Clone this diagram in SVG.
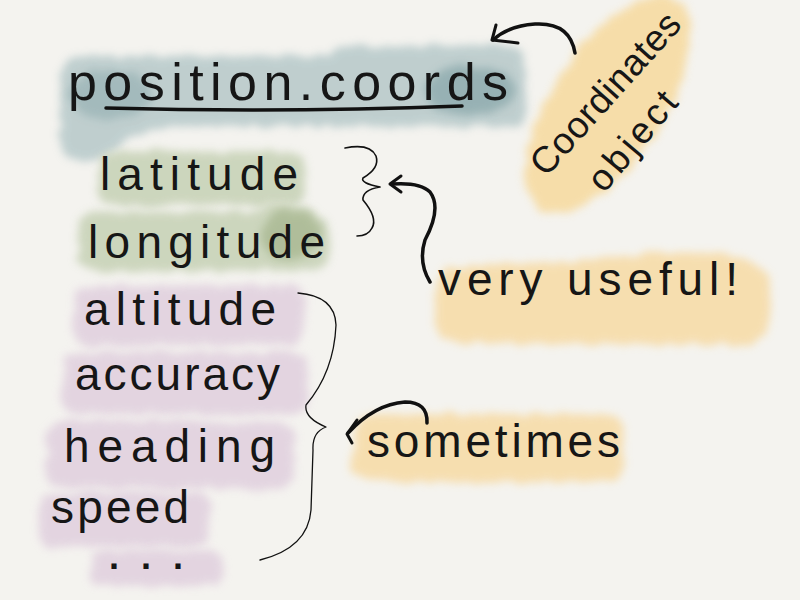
<svg xmlns="http://www.w3.org/2000/svg" width="800" height="600" viewBox="0 0 800 600">
<style>
.ink{font-family:"Liberation Sans","DejaVu Sans",sans-serif;fill:#161616}
.blob{filter:url(#wc);opacity:0.8}
.line{fill:none;stroke:#111;stroke-linecap:round;stroke-linejoin:round}
</style>
<defs>
<filter id="wc" x="-20%" y="-30%" width="140%" height="160%">
<feTurbulence type="fractalNoise" baseFrequency="0.07" numOctaves="2" seed="4" result="n"/>
<feDisplacementMap in="SourceGraphic" in2="n" scale="10" xChannelSelector="R" yChannelSelector="G" result="d"/>
<feGaussianBlur in="d" stdDeviation="4"/>
</filter>
</defs>
<rect width="800" height="600" fill="#f4f3ef"/>

<g id="node-coords">
<path class="blob" fill="#b2c6c7" d="M62,70 Q62,56 92,56 L330,56 Q338,46 360,46 L505,45 Q526,46 526,66 L526,110 Q526,128 505,127 L190,126 Q150,126 125,142 L98,160 Q62,166 60,140 Z"/>
<ellipse class="blob" cx="470" cy="90" rx="45" ry="25" fill="#8eabae" opacity="0.5"/>
<ellipse class="blob" cx="110" cy="95" rx="40" ry="25" fill="#9db6b8" opacity="0.4"/>
<text class="ink" x="68" y="100" style="font-size:52px" textLength="440" lengthAdjust="spacing">position.coords</text>
<path class="line" d="M106,108 Q280,113 462,106" stroke-width="3.5"/>
</g>

<g id="node-coordinates-object">
<ellipse class="blob" cx="608" cy="104" rx="125" ry="56" transform="rotate(-57 608 104)" fill="#f7d898"/>
<text class="ink" x="0" y="0" style="font-size:37px" textLength="205" lengthAdjust="spacing" transform="translate(546 178) rotate(-48)">Coordinates</text>
<text class="ink" x="0" y="0" style="font-size:37px" textLength="118" lengthAdjust="spacing" transform="translate(604 194) rotate(-50)">object</text>
</g>

<g id="node-latitude">
<path class="blob" fill="#c3cfb1" d="M100,165 Q100,150 125,150 L290,152 Q308,154 306,175 L304,195 Q300,206 280,205 L115,206 Q98,204 98,190 Z"/>
<text class="ink" x="100" y="190" style="font-size:46px" textLength="198" lengthAdjust="spacing">latitude</text>
</g>
<g id="node-longitude">
<path class="blob" fill="#c3cfb1" d="M80,225 Q80,212 100,212 L250,212 Q262,202 290,205 Q330,208 330,240 L328,260 Q324,272 300,270 L100,272 Q78,270 78,255 Z"/>
<ellipse class="blob" cx="290" cy="235" rx="30" ry="25" fill="#a9b892" opacity="0.5"/>
<text class="ink" x="88" y="258" style="font-size:46px" textLength="237" lengthAdjust="spacing">longitude</text>
</g>

<g id="node-altitude">
<path class="blob" fill="#dfcddd" d="M75,300 Q75,286 95,286 L290,285 Q306,286 305,305 L303,335 Q300,346 280,345 L90,346 Q72,344 72,330 Z"/>
<text class="ink" x="84" y="325" style="font-size:46px" textLength="192" lengthAdjust="spacing">altitude</text>
</g>
<g id="node-accuracy">
<path class="blob" fill="#dfcddd" d="M64,365 Q64,352 85,352 L290,352 Q308,354 308,372 L306,405 Q302,416 282,415 L80,414 Q62,412 62,398 Z"/>
<text class="ink" x="75" y="390" style="font-size:46px" textLength="205" lengthAdjust="spacing">accuracy</text>
</g>
<g id="node-heading">
<path class="blob" fill="#dfcddd" d="M48,435 Q48,420 70,420 L280,422 Q296,424 295,442 L293,478 Q290,490 270,489 L65,488 Q46,486 46,472 Z"/>
<text class="ink" x="64" y="462" style="font-size:46px" textLength="211" lengthAdjust="spacing">heading</text>
</g>
<g id="node-speed">
<path class="blob" fill="#dfcddd" d="M40,505 Q40,492 60,492 L195,492 Q210,494 209,510 L207,538 Q204,548 190,547 L55,547 Q38,545 38,532 Z"/>
<text class="ink" x="51" y="523" style="font-size:46px" textLength="138" lengthAdjust="spacing">speed</text>
</g>
<g id="node-more">
<path class="blob" fill="#dfcddd" d="M92,560 Q92,550 110,550 L212,550 Q226,552 225,565 L223,578 Q220,587 205,586 L105,586 Q90,584 90,574 Z"/>
<text class="ink" x="109" y="569" style="font-size:36px;font-weight:bold" textLength="74" lengthAdjust="spacing">...</text>
</g>

<g id="node-very-useful">
<path class="blob" fill="#f7d9a0" d="M436,285 Q436,268 460,266 L560,262 Q620,256 680,252 Q760,250 770,280 L770,320 Q766,345 740,345 L460,343 Q434,340 434,320 Z"/>
<text class="ink" x="438" y="295" style="font-size:46px" textLength="300" lengthAdjust="spacing">very useful!</text>
</g>

<g id="node-sometimes">
<path class="blob" fill="#f7d9a0" d="M356,428 Q356,414 378,414 L605,414 Q624,416 624,436 L622,470 Q618,482 598,482 L372,482 Q352,480 352,466 Z"/>
<text class="ink" x="367" y="457" style="font-size:46px" textLength="253" lengthAdjust="spacing">sometimes</text>
</g>

<g id="connectors">
<path class="line" stroke-width="1.6" d="M345,148 Q370,143 376,156 Q380,168 363,178 Q360,183 380,187 Q362,190 363,200 Q378,218 372,228 Q368,236 357,236"/>
<path class="line" stroke-width="1.3" d="M298,293 Q335,296 336,325 Q334,372 306,405 Q304,418 326,427 Q312,432 313,450 L311,510 Q308,548 260,560"/>
<path class="line" stroke-width="3.5" d="M575,53 Q570,22 535,24 Q508,26 493,40"/>
<path class="line" stroke-width="3" d="M496,25 L492,40 L518,43"/>
<path class="line" stroke-width="3.5" d="M430,282 Q418,262 425,240 Q442,208 430,192 Q420,182 392,184"/>
<path class="line" stroke-width="3" d="M401,176 L390,184 L401,192"/>
<path class="line" stroke-width="3.5" d="M427,423 Q428,402 405,402 Q375,404 348,433"/>
<path class="line" stroke-width="3" d="M357,420 L347,434 L352,443"/>
</g>
</svg>
